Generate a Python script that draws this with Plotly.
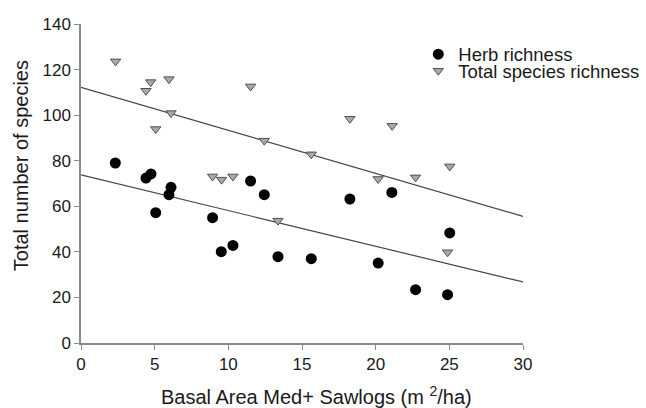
import plotly.graph_objects as go

# Data
herb_x = [2.33, 4.41, 4.75, 5.07, 5.97, 6.11, 8.93, 9.52, 10.31, 11.51, 12.44, 13.37,
          15.63, 18.25, 20.17, 21.10, 22.71, 24.88, 25.03]
herb_y = [79.0, 72.4, 74.2, 57.2, 65.1, 68.3, 55.0, 40.1, 42.8, 71.1, 65.1, 37.9,
          37.0, 63.2, 35.1, 66.1, 23.4, 21.2, 48.3]

total_x = [2.35, 4.41, 4.73, 5.07, 5.97, 6.11, 8.93, 9.54, 10.31, 11.51, 12.44, 13.37,
           15.63, 18.25, 20.17, 21.12, 22.71, 24.88, 25.03]
total_y = [123.6, 110.7, 114.5, 93.9, 115.8, 100.9, 73.1, 71.7, 73.1, 112.6, 88.8, 53.7,
           82.8, 98.4, 72.0, 95.3, 72.7, 39.8, 77.5]

# Regression lines (intercept, slope)
herb_fit = (73.8, -1.567)
total_fit = (112.2, -1.887)
fit_x = [0, 30]

x_ticks = [0, 5, 10, 15, 20, 25, 30]
y_ticks = [0, 20, 40, 60, 80, 100, 120, 140]

FONT = "Liberation Sans, Arial, sans-serif"
AXIS_COLOR = "#8a8a8a"

fig = go.Figure()

fig.add_trace(go.Scatter(
    x=fit_x, y=[herb_fit[0] + herb_fit[1] * v for v in fit_x],
    mode="lines", line=dict(color="#444444", width=1.2),
    showlegend=False, hoverinfo="skip"))
fig.add_trace(go.Scatter(
    x=fit_x, y=[total_fit[0] + total_fit[1] * v for v in fit_x],
    mode="lines", line=dict(color="#444444", width=1.2),
    showlegend=False, hoverinfo="skip"))

fig.add_trace(go.Scatter(
    x=herb_x, y=herb_y, mode="markers", name="Herb richness",
    marker=dict(symbol="circle", size=11, color="black", line=dict(width=0)),
    legend="legend"))
fig.add_trace(go.Scatter(
    x=total_x, y=total_y, mode="markers", name="Total species richness",
    marker=dict(symbol="triangle-down", size=9, color="#a9a9a9",
                line=dict(color="#505050", width=1)),
    legend="legend2"))

W, H = 646, 408
L, R, T, B = 81, 646 - 523.3, 24.3, 408 - 343.3
pw = W - L - R
ph = H - T - B

def px_x(p):
    return (p - L) / pw

def px_y(p):
    return (H - B - p) / ph

axis_common = dict(
    showline=True, linecolor=AXIS_COLOR, linewidth=1.5,
    ticks="outside", ticklen=5, tickwidth=1.2, tickcolor=AXIS_COLOR,
    showgrid=False, zeroline=False,
    tickfont=dict(family=FONT, size=17, color="#1a1a1a"),
)

fig.update_layout(
    width=W, height=H,
    margin=dict(l=L, r=R, t=T, b=B, autoexpand=False),
    paper_bgcolor="white", plot_bgcolor="white",
    font=dict(family=FONT, color="#1a1a1a"),
    xaxis=dict(range=[0, 30], tickvals=x_ticks, **axis_common),
    yaxis=dict(range=[0, 140], tickvals=y_ticks, **axis_common),
    legend=dict(x=px_x(418.5), y=px_y(55), xanchor="left", yanchor="middle",
                xref="paper", yref="paper",
                font=dict(family=FONT, size=18.5, color="#1a1a1a"),
                bgcolor="rgba(0,0,0,0)", borderwidth=0),
    legend2=dict(x=px_x(418.5), y=px_y(71.5), xanchor="left", yanchor="middle",
                 xref="paper", yref="paper",
                 font=dict(family=FONT, size=18.5, color="#1a1a1a"),
                 bgcolor="rgba(0,0,0,0)", borderwidth=0),
    annotations=[
        dict(text="Basal Area Med+ Sawlogs (m <sup>2</sup>/ha)",
             x=px_x(316.7), y=px_y(396), xref="paper", yref="paper",
             xanchor="center", yanchor="middle", showarrow=False,
             font=dict(family=FONT, size=20, color="#1a1a1a")),
        dict(text="Total number of species",
             x=px_x(21), y=px_y(166.5), xref="paper", yref="paper",
             xanchor="center", yanchor="middle", showarrow=False, textangle=-90,
             font=dict(family=FONT, size=20, color="#1a1a1a")),
    ],
)

fig.write_html("out.html", config={"displayModeBar": False})

# remove the browser's default body margin so the figure fills the window exactly
with open("out.html", "r", encoding="utf-8") as f:
    html = f.read()
html = html.replace("<body>", '<body style="margin:0;padding:0;overflow:hidden;">', 1)
with open("out.html", "w", encoding="utf-8") as f:
    f.write(html)
